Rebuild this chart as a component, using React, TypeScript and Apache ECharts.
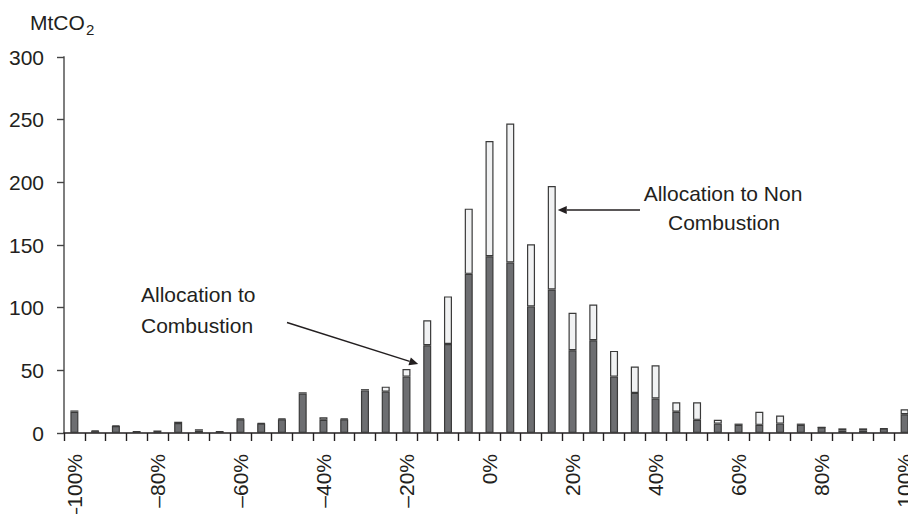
import React, { useEffect, useRef } from "react";
import * as echarts from "echarts";

// Change classes from -100% to +100% in 5% steps
const categories: string[] = [
  "–100%", "–95%", "–90%", "–85%", "–80%", "–75%", "–70%", "–65%", "–60%", "–55%",
  "–50%", "–45%", "–40%", "–35%", "–30%", "–25%", "–20%", "–15%", "–10%", "–5%",
  "0%", "5%", "10%", "15%", "20%", "25%", "30%", "35%", "40%", "45%",
  "50%", "55%", "60%", "65%", "70%", "75%", "80%", "85%", "90%", "95%", "100%",
];

// MtCO2 allocated to combustion (lower, dark segment)
const combustion: number[] = [
  17, 1.5, 5.5, 1, 0.5, 8, 2, 1, 11, 7.5,
  11, 31.5, 10.5, 11, 34, 33, 45, 70, 71, 127,
  141, 136, 101, 114.5, 66, 74, 45, 32, 27.5, 17,
  10.5, 7.5, 6.5, 6.5, 7.5, 6.5, 4.5, 2, 2, 3.5, 15,
];

// MtCO2 allocated to non-combustion (upper, light segment)
const nonCombustion: number[] = [
  1, 0.5, 0.5, 0.2, 1.5, 1, 1, 0.3, 0.5, 0.5,
  0.5, 1, 2, 0.5, 1, 4, 6, 20, 38, 52,
  92, 111, 49.5, 82.5, 30, 28.5, 20.5, 21, 26.5, 7.5,
  14, 3, 1, 10.5, 6.5, 1, 0, 1.7, 1.7, 0.2, 4,
];

const yTicks = { min: 0, max: 300, interval: 50 };

const FONT = "'Liberation Sans', Arial, Helvetica, sans-serif";
const INK = "#231f20";
const DARK = "#6d6e71";
const LIGHT = "#f1f2f3";
const EDGE = "#3a3a3a";
const BAR_W = 8;

function arrow(x1: number, y1: number, x2: number, y2: number) {
  const dx = x2 - x1;
  const dy = y2 - y1;
  const len = Math.hypot(dx, dy);
  const ux = dx / len;
  const uy = dy / len;
  const hl = 9;
  const hw = 4;
  const bx = x2 - ux * hl;
  const by = y2 - uy * hl;
  return [
    {
      type: "line",
      shape: { x1, y1, x2: bx, y2: by },
      style: { stroke: INK, lineWidth: 1.5 },
    },
    {
      type: "polygon",
      shape: {
        points: [
          [x2, y2],
          [bx - uy * hw, by + ux * hw],
          [bx + uy * hw, by - ux * hw],
        ],
      },
      style: { fill: INK },
    },
  ];
}

export default function App() {
  const ref = useRef<HTMLDivElement>(null);

  useEffect(() => {
    if (!ref.current) return;
    const chart = echarts.init(ref.current, undefined, { renderer: "svg" });

    const barItem = (fill: string) => ({
      color: fill,
      borderColor: EDGE,
      borderWidth: 1.2,
    });

    chart.setOption({
      animation: false,
      backgroundColor: "#ffffff",
      textStyle: { fontFamily: FONT },
      grid: {
        left: 64,
        top: 57,
        width: 851,
        height: 376,
        containLabel: false,
        outerBoundsMode: "none",
      },
      xAxis: {
        type: "category",
        data: categories,
        boundaryGap: true,
        axisLine: { show: true, lineStyle: { color: INK, width: 1.6 } },
        axisTick: {
          show: true,
          interval: 0,
          length: 8,
          alignWithLabel: false,
          lineStyle: { color: INK, width: 1.4 },
        },
        axisLabel: {
          interval: 3,
          rotate: 90,
          margin: 21,
          color: INK,
          fontSize: 21,
          fontFamily: FONT,
        },
        splitLine: { show: false },
      },
      yAxis: {
        type: "value",
        min: yTicks.min,
        max: yTicks.max,
        interval: yTicks.interval,
        axisLine: { show: true, lineStyle: { color: "#707070", width: 1.8 } },
        axisTick: { show: true, length: 7, lineStyle: { color: "#444444", width: 1.4 } },
        axisLabel: {
          margin: 20,
          color: INK,
          fontSize: 21,
          fontFamily: FONT,
        },
        splitLine: { show: false },
      },
      series: [
        {
          name: "Allocation to Combustion",
          type: "bar",
          stack: "total",
          barWidth: BAR_W,
          data: combustion,
          itemStyle: barItem(DARK),
        },
        {
          name: "Allocation to Non Combustion",
          type: "bar",
          stack: "total",
          barWidth: BAR_W,
          data: nonCombustion,
          itemStyle: barItem(LIGHT),
        },
      ],
    });

    // Arrow tips attach to the bars they describe
    const leftTip = chart.convertToPixel({ gridIndex: 0 }, ["–15%", 55]) as number[];
    const rightTip = chart.convertToPixel({ gridIndex: 0 }, ["15%", 178]) as number[];
    const half = BAR_W / 2;

    chart.setOption({
      graphic: [
        {
          type: "text",
          x: 30,
          y: 22,
          style: { text: "MtCO", font: `21px ${FONT}`, fill: INK, verticalAlign: "middle" },
        },
        {
          type: "text",
          x: 86,
          y: 29,
          style: { text: "2", font: `15px ${FONT}`, fill: INK, verticalAlign: "middle" },
        },
        {
          type: "text",
          x: 141,
          y: 294.5,
          style: { text: "Allocation to", font: `21px ${FONT}`, fill: INK, verticalAlign: "middle" },
        },
        {
          type: "text",
          x: 141,
          y: 325.5,
          style: { text: "Combustion", font: `21px ${FONT}`, fill: INK, verticalAlign: "middle" },
        },
        {
          type: "text",
          x: 723,
          y: 193.5,
          style: {
            text: "Allocation to Non",
            font: `21px ${FONT}`,
            fill: INK,
            align: "center",
            verticalAlign: "middle",
          },
        },
        {
          type: "text",
          x: 724,
          y: 222.5,
          style: {
            text: "Combustion",
            font: `21px ${FONT}`,
            fill: INK,
            align: "center",
            verticalAlign: "middle",
          },
        },
        ...arrow(287, 322.5, leftTip[0] - half - 5, leftTip[1]),
        ...arrow(640, rightTip[1], rightTip[0] + half + 2, rightTip[1]),
      ],
    });

    return () => {
      chart.dispose();
    };
  }, []);

  return (
    <div
      style={{
        position: "fixed",
        left: 0,
        top: 0,
        width: 908,
        height: 514,
        overflow: "hidden",
        background: "#ffffff",
      }}
    >
      <div ref={ref} style={{ width: 930, height: 514 }} />
    </div>
  );
}
